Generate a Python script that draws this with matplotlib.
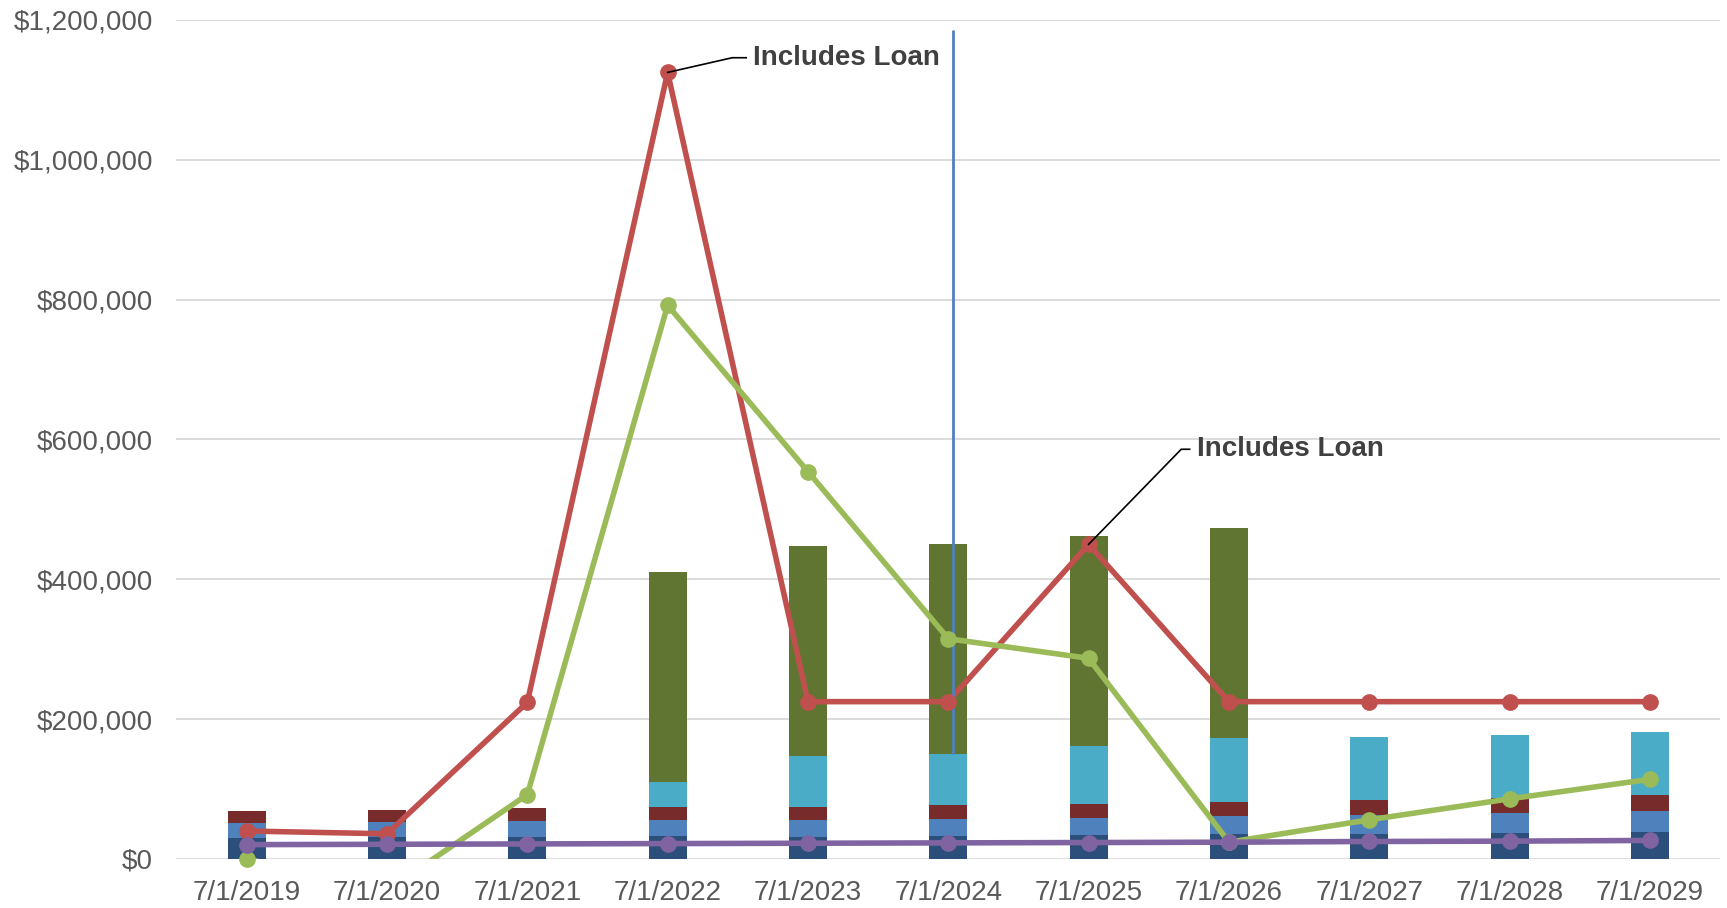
import matplotlib
matplotlib.use("Agg")
import matplotlib.pyplot as plt
import numpy as np

plt.rcParams['font.family'] = ['Liberation Sans', 'DejaVu Sans']

dates = ["7/1/2019", "7/1/2020", "7/1/2021", "7/1/2022", "7/1/2023", "7/1/2024",
         "7/1/2025", "7/1/2026", "7/1/2027", "7/1/2028", "7/1/2029"]

# stacked bar segments (bottom to top)
seg_navy = [30000, 31400, 31400, 32900, 31400, 32900, 34300, 35700, 35700, 37100, 38600]
seg_blue = [21400, 21400, 22900, 22900, 24300, 24300, 24300, 25700, 27100, 28600, 30000]
seg_red = [17100, 17100, 18600, 18600, 18600, 20000, 20000, 20000, 21400, 21400, 22900]
seg_teal = [0, 0, 0, 35700, 72900, 72900, 82900, 91400, 90000, 90000, 90000]
seg_green = [0, 0, 0, 300000, 300000, 300000, 300000, 300000, 0, 0, 0]

# line series
line_red = [40000, 36000, 224000, 1125000, 225000, 225000, 450000, 225000, 225000, 225000, 225000]
line_green = [0, -45000, 92000, 792000, 554000, 315000, 287000, 24000, 56000, 86000, 114000]
line_purple = [20500, 21000, 21500, 22000, 22500, 23000, 23500, 24000, 25000, 25500, 26500]

# vertical marker line
vline_x = 5.03
vline_range = [150000, 1185000]

yticks = [0, 200000, 400000, 600000, 800000, 1000000, 1200000]

fig = plt.figure(figsize=(17.27, 9.08), dpi=100)
ax = fig.add_axes([0.1022, 0.054, 0.8938, 0.924])

x = np.arange(len(dates))
w = 0.27
colors = ['#2b4f7a', '#4f81bd', '#772b2a', '#4aacc6', '#617532']
bottom = np.zeros(len(dates))
for seg, c in zip([seg_navy, seg_blue, seg_red, seg_teal, seg_green], colors):
    seg = np.array(seg, dtype=float)
    ax.bar(x, seg, w, bottom=bottom, color=c, zorder=2, edgecolor='none')
    bottom += seg

lw = 4.0
ms = 11
ax.plot(x, line_red, color='#c0504d', lw=lw, zorder=4, solid_capstyle='round')
ax.plot(x, line_green, color='#9bbb59', lw=lw, zorder=4, solid_capstyle='round')
ax.plot(x, line_purple, color='#8064a2', lw=lw, zorder=4, solid_capstyle='round')
for vals, c in [(line_red, '#c0504d'), (line_green, '#9bbb59'), (line_purple, '#8064a2')]:
    vals = np.array(vals, dtype=float)
    m = vals >= 0
    ax.plot(x[m], vals[m], 'o', color=c, ms=ms, zorder=5, clip_on=False)

ax.vlines(vline_x, vline_range[0], vline_range[1], color='#4f81bd', lw=2, zorder=4.5)

# annotations
def leader(pt, elbow, text_xy):
    ax.plot([pt[0], elbow[0], text_xy[0] - 0.05], [pt[1], elbow[1], elbow[1]],
            color='black', lw=1.2, zorder=6)
    ax.text(text_xy[0], text_xy[1], "Includes Loan", fontsize=20, fontweight='bold',
            color='#404040', ha='left', va='center', zorder=7)

leader((3, line_red[3]), (3.46, 1146000), (3.61, 1146000))
leader((6, line_red[6]), (6.66, 586000), (6.77, 586000))

ax.set_xlim(-0.5, 10.5)
ax.set_ylim(0, 1200000)
ax.set_yticks(yticks)
ax.set_yticklabels(["${:,.0f}".format(v) for v in yticks])
ax.set_xticks(x)
ax.set_xticklabels(dates)
ax.tick_params(axis='both', length=0, labelsize=20, labelcolor='#595959')
ax.tick_params(axis='y', pad=17)
ax.tick_params(axis='x', pad=15)
ax.grid(axis='y', color='#d9d9d9', lw=1.3, zorder=0)
ax.set_axisbelow(True)
for s in ax.spines.values():
    s.set_visible(False)

fig.savefig("out.png", dpi=100)
